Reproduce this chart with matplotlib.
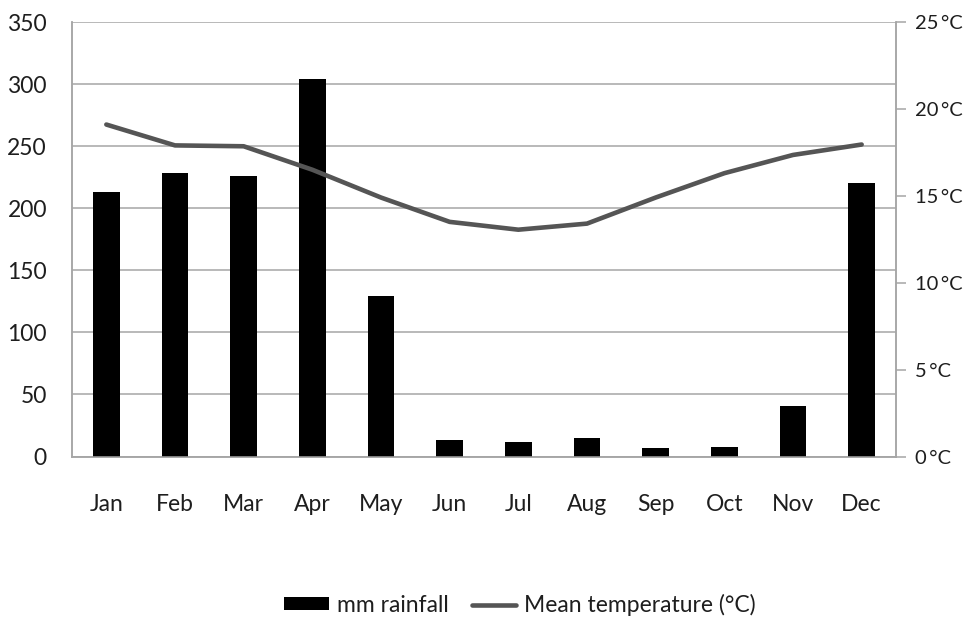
import matplotlib
matplotlib.use("Agg")
import matplotlib.pyplot as plt
import numpy as np

months = ["Jan", "Feb", "Mar", "Apr", "May", "Jun", "Jul", "Aug", "Sep", "Oct", "Nov", "Dec"]
rainfall_mm = [213, 228, 226, 304, 129, 13, 12, 15, 7, 8, 41, 220]
mean_temp_c = [19.1, 17.9, 17.85, 16.5, 14.9, 13.5, 13.05, 13.4, 14.9, 16.3, 17.35, 17.95]
rain_ticks = [0, 50, 100, 150, 200, 250, 300, 350]
temp_ticks = [0, 5, 10, 15, 20, 25]
temp_labels = ["0\u2009°C", "5\u2009°C", "10\u2009°C", "15\u2009°C", "20\u2009°C", "25\u2009°C"]

plt.rcParams['font.family'] = ['Lato', 'DejaVu Sans']
FS = 16.5
TXT = '#1e1e1e'
GRID = '#a6a6a6'

fig = plt.figure(figsize=(9.69, 6.23), dpi=100)
ax = fig.add_axes([72/969, 1 - 456.5/623, (896-72)/969, (456.5-22)/623])
x = np.arange(len(months))
ax.bar(x, rainfall_mm, width=0.39, color="black", label="mm rainfall", zorder=3)
ax.set_xlim(-0.5, 11.5)
ax.set_ylim(0, 350)
ax.set_yticks(rain_ticks)
ax.set_xticks(x)
ax.set_xticklabels(months)
ax.grid(axis='y', color=GRID, linewidth=1.1, zorder=0)
ax.set_axisbelow(True)
for s in ["left", "bottom", "right", "top"]:
    ax.spines[s].set_color(GRID)
    ax.spines[s].set_linewidth(1.1)
ax.spines["top"].set_visible(False)
ax.tick_params(axis='y', length=0, pad=18, labelsize=FS, labelcolor=TXT)
ax.tick_params(axis='x', length=0, pad=27, labelsize=FS, labelcolor=TXT)

ax2 = ax.twinx()
ax2.plot(x, mean_temp_c, color='#555555', linewidth=3.3, label="Mean temperature (°C)",
         solid_capstyle='round', zorder=4)
ax2.set_ylim(0, 25)
ax2.set_yticks(temp_ticks)
ax2.set_yticklabels(temp_labels)
ax2.tick_params(axis='y', length=7, width=1.1, color=GRID, pad=7, labelsize=14.5, labelcolor=TXT)
for s in ["left", "bottom", "right", "top"]:
    ax2.spines[s].set_color(GRID)
    ax2.spines[s].set_linewidth(1.1)
ax2.spines["top"].set_visible(False)

h1, l1 = ax.get_legend_handles_labels()
h2, l2 = ax2.get_legend_handles_labels()
fig.legend(h1 + h2, l1 + l2, loc='center', bbox_to_anchor=(520/969, 1 - 605/623), ncol=2,
           frameon=False, fontsize=FS, handlelength=1.95, handleheight=0.5,
           columnspacing=1.0, handletextpad=0.35, labelcolor=TXT)

fig.savefig("out.png", dpi=100)
